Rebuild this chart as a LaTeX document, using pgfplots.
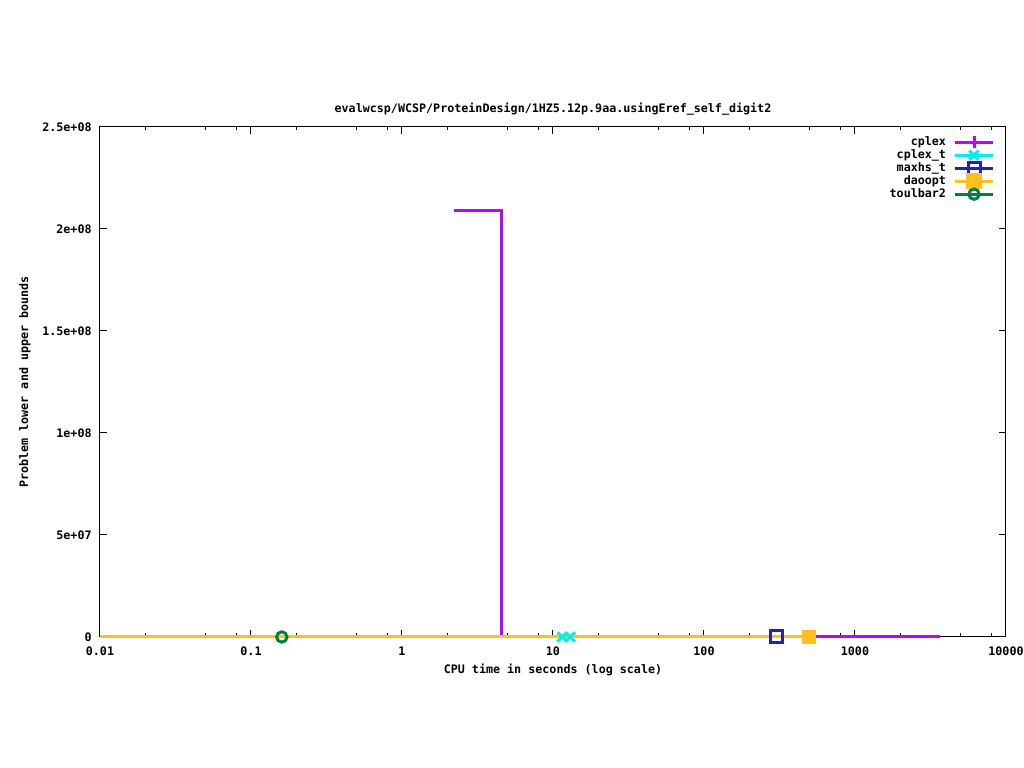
\documentclass[border=0pt]{standalone}
\usepackage{fontspec}
\setmainfont{DejaVu Sans Mono}
\usepackage{pgfplots}
\pgfplotsset{compat=1.18}
\definecolor{cplexc}{HTML}{C000FF}
\definecolor{cplextc}{HTML}{00EEEE}
\definecolor{maxhsc}{HTML}{2222BB}
\definecolor{daooptc}{HTML}{FFC020}
\definecolor{toulc}{HTML}{008040}
\newcommand\gp{\fontsize{5.85pt}{6.5pt}\selectfont\bfseries}
\begin{document}
\begin{tikzpicture}
\begin{axis}[name=ax,xmode=log,scale only axis,width=453pt,height=255pt,
  xmin=0.01,xmax=10000,ymin=0,ymax=2.5e8,clip=false,
  xtick={0.01,0.1,1,10,100,1000,10000},xticklabels={0.01,0.1,1,10,100,1000,10000},
  minor xtick={0.02,0.05,0.08,0.2,0.5,0.8,2,5,8,20,50,80,200,500,800,2000,5000,8000},
  ytick={0,5e7,1e8,1.5e8,2e8,2.5e8},yticklabels={0,5e+07,1e+08,1.5e+08,2e+08,2.5e+08},
  scaled y ticks=false,tick align=inside,major tick length=3.5pt,minor tick length=1.75pt,
  every tick/.style={black,line width=0.5pt},axis line style={line width=0.5pt},
  tick label style={font=\gp,inner sep=0pt,text height=4.2pt,text depth=0pt},
  xticklabel style={anchor=center,yshift=-7.25pt},
  yticklabel style={anchor=east,xshift=-4pt},
  every axis title shift=0pt,
  title={evalwcsp/WCSP/ProteinDesign/1HZ5.12p.9aa.usingEref\_self\_digit2},
  title style={at={(axis description cs:0.5,1.035)},anchor=center,font=\gp,inner sep=0pt},
  xlabel={CPU time in seconds (log scale)},
  xlabel style={at={(axis description cs:0.5,-0.0647)},anchor=center,font=\gp,inner sep=0pt},
  ylabel={Problem lower and upper bounds},
  ylabel style={at={(axis description cs:-0.0828,0.5)},anchor=center,font=\gp,inner sep=0pt},
  legend image code/.code={
    \pgfpathrectangle{\pgfpoint{0pt}{-2pt}}{\pgfpoint{19pt}{4pt}}\pgfusepath{use as bounding box}
    \begin{pgfinterruptboundingbox}
    \draw[mark repeat=2,mark phase=2] plot coordinates {(0pt,0pt)(9.5pt,0pt)(19pt,0pt)};
    \end{pgfinterruptboundingbox}},
  legend plot pos=right,legend cell align=right,
  legend style={draw=none,fill=none,at={(axis description cs:0.9857,0.981)},anchor=north east,
    inner sep=0pt,outer sep=0pt,font=\gp,row sep=1pt,column sep=4.5pt,
    nodes={inner sep=0pt,text height=4.5pt,text depth=1pt}},
]
% lines
\addplot[cplexc,line width=1.5pt,forget plot] coordinates {(2.21,2.09e8)(4.53,2.09e8)(4.53,0)(3656,0)};
\addplot[cplextc,line width=1.5pt,forget plot] coordinates {(11.5,0)(13,0)};
\addplot[daooptc,line width=1.5pt,forget plot] coordinates {(0.01,0)(496,0)};
% marks
\addplot[cplextc,only marks,mark=x,mark size=3.3pt,line width=1.5pt,forget plot] coordinates {(11.5,0)(13,0)};
\addplot[maxhsc,only marks,mark=square,mark size=3pt,line width=1.5pt,forget plot] coordinates {(300,0)};
\addplot[daooptc,only marks,mark=square*,mark size=3.2pt,forget plot] coordinates {(496,0)};
\addplot[toulc,only marks,mark=o,mark size=2.6pt,line width=1.5pt,forget plot] coordinates {(0.16,0)};
% legend
\addlegendimage{cplexc,line width=1.5pt,mark=+,mark size=3pt}
\addlegendimage{cplextc,line width=1.5pt,mark=x,mark size=3.3pt}
\addlegendimage{maxhsc,line width=1.5pt,mark=square,mark size=3pt}
\addlegendimage{daooptc,line width=1.5pt,mark=square*,mark size=3.2pt}
\addlegendimage{toulc,line width=1.5pt,mark=o,mark size=2.6pt}
\legend{cplex,cplex\_t,maxhs\_t,daoopt,toulbar2}
\end{axis}
\pgfresetboundingbox
\path[use as bounding box] ([shift={(-50pt,-65.5pt)}]ax.south west) rectangle ([shift={(9pt,63.5pt)}]ax.north east);
\end{tikzpicture}
\end{document}
